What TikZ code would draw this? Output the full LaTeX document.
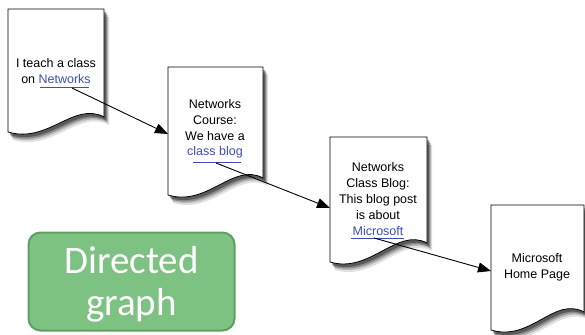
\documentclass[tikz,border=0pt]{standalone}
\usepackage{fontspec}
\setmainfont{Liberation Sans}
\newfontfamily\boxfont{Carlito}
\usetikzlibrary{arrows.meta}
\definecolor{linkblue}{RGB}{62,78,178}
\definecolor{boxfill}{RGB}{125,194,131}
\definecolor{boxline}{RGB}{94,159,98}
\newcommand\mydoc[5]{%
  \foreach \sx/\sy/\op in {5/8/0.12,4/6/0.18,3/4.5/0.25,2/3/0.35}{%
    \fill[black,opacity=\op,shift={(\sx,\sy)}] (#1,#2) -- (#3,#2) -- (#3,#4)
      .. controls (#3-30,#4-16) and (#1+40,#5+12) .. (#1,#5) -- cycle;}
  \filldraw[fill=white,draw=black,line width=0.8pt] (#1,#2) -- (#3,#2) -- (#3,#4)
      .. controls (#3-30,#4-16) and (#1+40,#5+12) .. (#1,#5) -- cycle;}
\tikzset{
  doctext/.style={align=center,font=\fontsize{12.5}{15.8}\selectfont,inner sep=0pt},
  link/.style={draw=linkblue,line width=1pt},
  edge/.style={draw=black,line width=0.9pt,-{Triangle[length=13pt,width=10pt]}},
}
\begin{document}
\begin{tikzpicture}[x=1pt,y=-1pt]
\useasboundingbox (0,0) rectangle (585,334);
% documents
\mydoc{8}{9}{104}{117}{132}
\mydoc{168}{67}{263}{178}{195}
\mydoc{330}{137}{427}{243}{262}
\mydoc{491}{205}{584}{312}{330}
% texts
\node[doctext] (t1) at (56,71) {I teach a class\\on \textcolor{linkblue}{Networks}};
\node[doctext] (t2) at (215,129) {Networks\\Course:\\We have a\\\textcolor{linkblue}{class blog}};
\node[doctext] (t3) at (378,199) {Networks\\Class Blog:\\This blog post\\is about\\\textcolor{linkblue}{Microsoft}};
\node[doctext] (t4) at (537,267) {Microsoft\\Home Page};
% underlines
\coordinate (u1a) at (40,88); \coordinate (u1b) at (89,88);
\coordinate (u2a) at (193,162); \coordinate (u2b) at (241,162);
\coordinate (u3a) at (351,238); \coordinate (u3b) at (404,238);
\draw[link] (u1a) -- (u1b);
\draw[link] (u2a) -- (u2b);
\draw[link] (u3a) -- (u3b);
% connector ends
\coordinate (s1) at (72,88);  \coordinate (e1) at (168,134);
\coordinate (s2) at (216,163); \coordinate (e2) at (330,208);
\coordinate (s3) at (374,238); \coordinate (e3) at (491,271);
\draw[edge] (s1) -- (e1);
\draw[edge] (s2) -- (e2);
\draw[edge] (s3) -- (e3);
% green box
\node[draw=boxline,fill=boxfill,line width=2pt,rounded corners=12pt,
      minimum width=206pt,minimum height=98pt,inner sep=0pt] (box) at (131.5,281.5) {};
\node[text=white,font=\boxfont\fontsize{39}{42}\selectfont,align=center,inner sep=0pt]
      (boxtext) at (131.5,284) {Directed\\graph};
\end{tikzpicture}
\end{document}
